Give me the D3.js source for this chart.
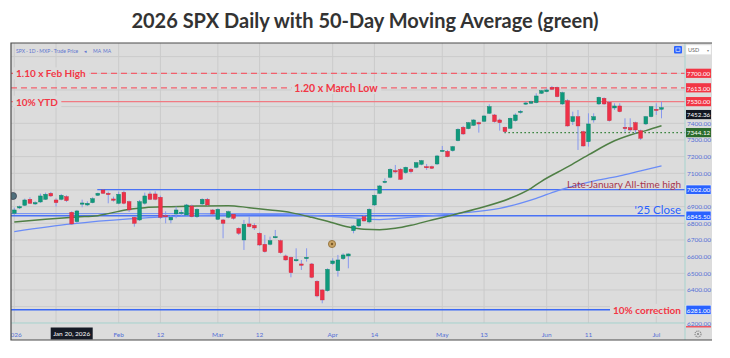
<!DOCTYPE html>
<html><head><meta charset="utf-8">
<script src="https://cdn.jsdelivr.net/npm/d3@7"></script>
<style>body{margin:0;background:#fff;} svg{display:block;font-family:Lato,'Open Sans',sans-serif;}</style>
</head><body><svg id="c" width="730" height="358"></svg>
<script>
// ---- data ----
const opens  = [6860,6892,6908,6944,6916,6928,6944,6980,6940,6944,6960,6866,6810,6918,6910,6924,6968,7000,6980,6946,
6920,6986,6930,6836,6820,6920,6976,6976,6956,6846,6820,6856,6862,6850,6904,6840,6916,6944,6880,6824,
6820,6836,6854,6770,6700,6796,6788,6740,6674,6674,6718,6696,6604,6596,6580,6556,6588,6556,6452,6400,
6396,6558,6516,6588,6604,6756,6784,6840,6808,6910,6980,7048,7076,7116,7124,7104,7124,7136,7154,7140,
7140,7156,7234,7232,7236,7296,7376,7368,7388,7404,7412,7460,7450,7420,7376,7370,7416,7468,7518,7520,
7524,7580,7590,7616,7616,7516,7536,7410,7440,7350,7290,7420,7516,7550,7526,7492,7504,7376,7374,7404,
7356,7396,7440,7484,7484];
const highs  = [6894,6906,6948,6956,6932,6978,6984,6988,6950,6976,6968,6872,6880,6942,6932,6956,6984,7002,6990,6960,
6990,6996,6936,6840,6940,6984,6990,6992,6966,6872,6850,6900,6880,6916,6912,6890,6950,6952,6884,6890,
6826,6876,6860,6776,6820,6840,6800,6746,6730,6720,6760,6702,6612,6600,6650,6580,6650,6562,6458,6404,
6530,6590,6610,6620,6620,6790,6830,6850,6890,6972,7030,7070,7130,7150,7130,7140,7132,7168,7180,7156,
7146,7210,7264,7240,7264,7370,7384,7408,7424,7410,7448,7514,7456,7428,7380,7434,7460,7480,7530,7536,
7580,7600,7610,7624,7620,7590,7544,7470,7480,7356,7460,7460,7560,7556,7534,7520,7520,7430,7430,7410,
7362,7444,7504,7520,7530];
const lows   = [6850,6886,6904,6916,6910,6922,6940,6958,6900,6938,6928,6790,6800,6896,6904,6920,6964,6976,6920,6930,
6914,6914,6868,6780,6814,6912,6940,6938,6826,6800,6800,6830,6844,6846,6836,6832,6910,6906,6850,6820,
6710,6830,6822,6730,6640,6776,6760,6664,6624,6668,6710,6618,6576,6476,6570,6520,6570,6470,6356,6320,
6390,6550,6480,6580,6530,6740,6776,6810,6800,6904,6976,7040,7070,7100,7060,7096,7100,7130,7148,7120,
7126,7150,7230,7196,7230,7292,7330,7364,7384,7344,7408,7456,7404,7356,7344,7366,7410,7458,7510,7516,
7520,7576,7586,7600,7556,7510,7380,7390,7240,7260,7260,7404,7510,7510,7410,7480,7466,7350,7350,7340,
7300,7390,7436,7450,7430];
const closes = [6880,6900,6940,6920,6924,6964,6974,6964,6924,6968,6936,6796,6874,6922,6920,6948,6980,6980,6972,6938,
6974,6920,6880,6800,6930,6964,6944,6944,6836,6840,6836,6880,6866,6910,6840,6884,6944,6910,6856,6884,
6800,6870,6830,6740,6794,6780,6772,6670,6630,6696,6720,6624,6580,6504,6582,6548,6596,6476,6364,6340,
6524,6574,6580,6610,6616,6784,6824,6814,6884,6968,7024,7052,7124,7108,7064,7136,7110,7164,7176,7136,
7130,7204,7238,7200,7260,7364,7336,7404,7420,7396,7444,7500,7410,7404,7350,7430,7450,7472,7522,7530,
7564,7596,7600,7604,7560,7584,7384,7440,7384,7264,7396,7440,7556,7516,7416,7504,7470,7368,7360,7360,
7310,7440,7500,7480,7494];

// 50-day moving average (green), sampled at candle indices
const ma50Idx = [0,6,12,16,18,22,25,30,35,41,45,49,53,57,60,64,67,70,73,76,80,84,89,95,99,101,106,110,115,118,121,124];
const ma50Val = [6808,6824,6838,6846,6858,6884,6894,6900,6904,6906,6894,6880,6864,6836,6812,6778,6764,6762,6770,6788,6820,6850,6890,6950,7010,7052,7138,7210,7295,7330,7356,7385];
// longer moving average (blue)
const maLongIdx = [0,11,22,30,40,50,58,64,70,76,85,93,100,104,108,112,116,120,124];
const maLongVal = [6750,6796,6826,6840,6850,6852,6846,6834,6822,6836,6860,6890,6950,6995,7030,7060,7085,7115,7144];

// time axis (grid at every tick; the Jan 14 label sits under the crosshair date box)
const tickIdx  = [0,8,20,28,39,47,61,69,82,90,102,110,123];
const tickText = ["2026","","Feb","12","Mar","12","Apr","14","May","13","Jun","11","Jul"];
const priceTicks = [6200,6300,6400,6500,6600,6700,6800,6900,7000,7100,7200,7300,7400,7500,7600,7700];

// price levels
const levelPrices = [7700,7613,7530,7452.36,7344.12,7002,6845.5,6281];
const levelLabels = ["7700.00","7613.00","7530.00","7452.36","7344.12","7002.00","6845.50","6281.00"];
const levelColors = ["#f23645","#f23645","#f23645","#131722","#2a6b2c","#2962ff","#2962ff","#2962ff"];

// ---- drawing ----
const svg = d3.select("#c");
const L = 11, R = 685, T = 43, B = 323, FR = 712, FB = 340;
const bg = "#dcdcdc", grid = "#cbcbcb";
const x = d3.scaleLinear().domain([-0.63, 128.5]).range([L, R]);
const y = d3.scaleLinear().domain([6200, 7700]).range([323.3, 73.3]);

svg.append("text").attr("x",365).attr("y",28).attr("text-anchor","middle")
  .attr("font-size",20).attr("font-weight","bold").attr("fill","#333")
  .text("2026 SPX Daily with 50-Day Moving Average (green)");

svg.append("rect").attr("x",L).attr("y",T).attr("width",FR-L).attr("height",FB-T).attr("fill",bg);
const defs = svg.append("defs");
defs.append("clipPath").attr("id","plot").append("rect").attr("x",L).attr("y",T).attr("width",R-L).attr("height",B-T);
defs.append("clipPath").attr("id","taxis").append("rect").attr("x",L).attr("y",B).attr("width",R-L).attr("height",FB-B);

const plot = svg.append("g").attr("clip-path","url(#plot)");
// grid
plot.selectAll(".vg").data(tickIdx).join("line")
  .attr("x1",d=>x(d)).attr("x2",d=>x(d)).attr("y1",T).attr("y2",B).attr("stroke",grid).attr("stroke-width",1);
plot.selectAll(".hg").data(priceTicks.concat([7800])).join("line")
  .attr("x1",L).attr("x2",R).attr("y1",d=>y(d)).attr("y2",d=>y(d)).attr("stroke",grid).attr("stroke-width",1);

// horizontal levels
function hline(p, x1, x2, color, w, dash){
  plot.append("line").attr("x1",x1).attr("x2",x2).attr("y1",y(p)).attr("y2",y(p))
    .attr("stroke",color).attr("stroke-width",w).attr("stroke-dasharray",dash||null);
}
hline(7700, L, R, "#f2606c", 1.3, "6,4");
hline(7613, L, R, "#f2606c", 1.3, "6,4");
hline(7530, L, R, "#f07a82", 1.2);
hline(7344.12, x(93.9), R, "#2e7d32", 1.2, "1.5,2.5");
hline(7002, x(15.9), R, "#4a72f5", 1.3);
hline(6858, L, x(84), "#6d8cf5", 1);
hline(6845.5, L, R, "#4a72f5", 1.5);
hline(6281, L, x(114.7), "#3a68f5", 1.4);

// moving averages
const line = d3.line().x(d=>x(d[0])).y(d=>y(d[1])).curve(d3.curveMonotoneX);
plot.append("path").datum(maLongIdx.map((d,i)=>[d,maLongVal[i]]))
  .attr("d",line).attr("fill","none").attr("stroke","#6a8cf7").attr("stroke-width",1.3);
plot.append("path").datum(ma50Idx.map((d,i)=>[d,ma50Val[i]]))
  .attr("d",line).attr("fill","none").attr("stroke","#4f7f45").attr("stroke-width",1.5);

// candles
const cd = closes.map((c,i)=>({i,o:opens[i],h:highs[i],l:lows[i],c}));
const cg = plot.append("g");
cg.selectAll(".w").data(cd).join("line")
  .attr("x1",d=>x(d.i)).attr("x2",d=>x(d.i)).attr("y1",d=>y(d.h)).attr("y2",d=>y(d.l))
  .attr("stroke","#8798ee").attr("stroke-width",1);
cg.selectAll(".b").data(cd).join("rect")
  .attr("x",d=>x(d.i)-1.9).attr("width",3.8)
  .attr("y",d=>y(Math.max(d.o,d.c)))
  .attr("height",d=>Math.max(1.2, Math.abs(y(d.o)-y(d.c))))
  .attr("fill",d=>d.c>=d.o?"#0f9a7c":"#ee3148")
  .attr("stroke",d=>d.c>=d.o?"#0b7d64":"#c4283c").attr("stroke-width",0.4);

// markers
plot.append("circle").attr("cx",13).attr("cy",196).attr("r",3.6).attr("fill","#4f6f7c").attr("stroke","#334").attr("stroke-width",0.6);
plot.append("circle").attr("cx",332).attr("cy",244).attr("r",3.6).attr("fill","#c9a466").attr("stroke","#8b6a32").attr("stroke-width",0.8);
plot.append("circle").attr("cx",332).attr("cy",244).attr("r",1.2).attr("fill","#7a5a2a");

// annotation texts
function label(txt, xx, yy, anchor, color, size, weight, gap){
  const t = plot.append("text").attr("x",xx).attr("y",yy).attr("text-anchor",anchor)
    .attr("font-size",size).attr("font-weight",weight).attr("fill",color).attr("dominant-baseline","central").text(txt);
  if(gap){
    const bb = t.node().getBBox();
    plot.insert("rect", () => t.node()).attr("x",bb.x-3).attr("y",bb.y).attr("width",bb.width+6).attr("height",bb.height).attr("fill",bg);
  }
}
label("1.10 x Feb High", 16, y(7700), "start", "#f23645", 10, "bold", true);
label("1.20 x March Low", 336, y(7613), "middle", "#f23645", 10.5, "bold", true);
label("10% YTD", 16, y(7530), "start", "#f23645", 10, "bold", true);
label("10% correction", 681, y(6281), "end", "#f23645", 10, "bold", true);
plot.append("text").attr("x",681).attr("y",y(7002)-2).attr("text-anchor","end").attr("font-size",10)
  .attr("fill","#a8364e").text("Late-January All-time high");
plot.append("text").attr("x",681).attr("y",y(6845.5)-1.5).attr("text-anchor","end").attr("font-size",11.5)
  .attr("fill","#2962ff").text("'25 Close");

// legend top-left
svg.append("text").attr("x",16).attr("y",53).attr("font-size",5).attr("fill","#5d74d0").text("SPX · 1D · MXP · Trade Price");
svg.append("text").attr("x",84).attr("y",53).attr("font-size",5).attr("fill","#5d74d0").text("◂");
svg.append("text").attr("x",93).attr("y",53).attr("font-size",5).attr("fill","#5d74d0").text("MA");
svg.append("text").attr("x",103).attr("y",53).attr("font-size",5).attr("fill","#5d74d0").text("MA");

// axes separators
svg.append("line").attr("x1",R).attr("x2",R).attr("y1",T).attr("y2",FB).attr("stroke","#a6d3ce").attr("stroke-width",1);
svg.append("line").attr("x1",L).attr("x2",R).attr("y1",B).attr("y2",B).attr("stroke","#a6d3ce").attr("stroke-width",1);

// price axis tick labels (hidden when a level label covers them)
const visTicks = priceTicks.filter(p => levelPrices.every(l => Math.abs(y(l)-y(p))>6));
svg.selectAll(".pt").data(visTicks).join("text")
  .attr("x",699).attr("y",d=>y(d)).attr("dominant-baseline","central").attr("text-anchor","middle")
  .attr("font-size",6.5).attr("fill","#5470d6").text(d=>d3.format(".2f")(d));
// red marker under 6200
svg.append("line").attr("x1",686).attr("x2",711).attr("y1",326.8).attr("y2",326.8).attr("stroke","#f23645").attr("stroke-width",1.2);

// level labels
const lg = svg.selectAll(".lv").data(levelPrices).join("g");
lg.append("rect").attr("x",686).attr("y",d=>y(d)-4.6).attr("width",25).attr("height",9.2)
  .attr("fill",(d,i)=>levelColors[i]).attr("stroke",(d,i)=>i>=5?"#fff":"none").attr("stroke-width",0.5);
lg.append("text").attr("x",698.5).attr("y",d=>y(d)+0.3).attr("dominant-baseline","central").attr("text-anchor","middle")
  .attr("font-size",6.3).attr("fill","#fff").text((d,i)=>levelLabels[i]);

// top-right controls
svg.append("rect").attr("x",674).attr("y",46).attr("width",8).attr("height",7.5).attr("rx",1).attr("fill","#2962ff");
svg.append("rect").attr("x",676).attr("y",48).attr("width",4).attr("height",3.5).attr("fill","none").attr("stroke","#fff").attr("stroke-width",0.6);
svg.append("rect").attr("x",686).attr("y",45).attr("width",25).attr("height",9.5).attr("fill","#fff").attr("stroke","#e4e4e4").attr("stroke-width",0.5);
svg.append("text").attr("x",688).attr("y",50).attr("dominant-baseline","central").attr("font-size",5.5).attr("fill","#666").text("USD");
svg.append("text").attr("x",707).attr("y",50).attr("dominant-baseline","central").attr("font-size",4).attr("fill","#888").text("▾");

// time axis labels
const ta = svg.append("g").attr("clip-path","url(#taxis)");
ta.selectAll(".tl").data(tickIdx.filter((d,i)=>tickText[i])).join("text")
  .attr("x",d=>x(d)).attr("y",334).attr("dominant-baseline","central").attr("text-anchor","middle")
  .attr("font-size",6.5).attr("fill","#5470d6").text(d=>tickText[tickIdx.indexOf(d)]);
// crosshair date tooltip
svg.append("rect").attr("x",x(11)-21).attr("y",327.5).attr("width",42).attr("height",12).attr("fill","#161a25");
svg.append("text").attr("x",x(11)).attr("y",333.7).attr("dominant-baseline","central").attr("text-anchor","middle")
  .attr("font-size",6.5).attr("fill","#fff").text("Jan 20, 2026");
// settings gear
svg.append("circle").attr("cx",698).attr("cy",334).attr("r",3).attr("fill","none").attr("stroke","#8a8a8a").attr("stroke-width",1.2).attr("stroke-dasharray","1.2,0.8");
svg.append("circle").attr("cx",698).attr("cy",334).attr("r",1.1).attr("fill","#8a8a8a");

// frame
svg.append("path").attr("d",`M${FR},${T}H${L}V${FB}H${FR}`).attr("fill","none").attr("stroke","#4a4a4a").attr("stroke-width",1.2);
</script></body></html>
